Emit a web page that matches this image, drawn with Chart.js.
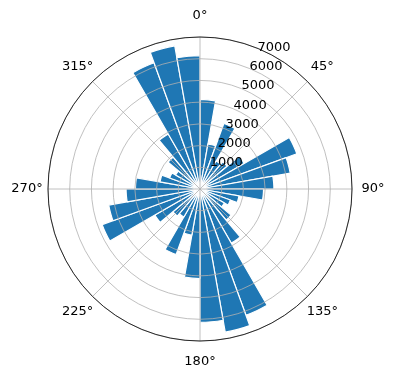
<!DOCTYPE html>
<html>
<head>
<meta charset="utf-8">
<script src="https://cdn.jsdelivr.net/npm/chart.js@4"></script>
<style>
  body { margin: 0; background: #fff; }
  #wrap { width: 396px; height: 380px; }
</style>
</head>
<body>
<div id="wrap"><canvas id="windChart"></canvas></div>
<script>
// bars every 10 deg, clockwise from north
var directions = ['0°', '10°', '20°', '30°', '40°', '50°', '60°', '70°', '80°',
    '90°', '100°', '110°', '120°', '130°', '140°', '150°', '160°', '170°',
    '180°', '190°', '200°', '210°', '220°', '230°', '240°', '250°', '260°',
    '270°', '280°', '290°', '300°', '310°', '320°', '330°', '340°', '350°'];
var counts = [4300, 2200, 3350, 1550, 1700, 2450, 4950, 4400, 3550,
    3050, 1900, 1550, 1350, 1950, 3000, 6450, 6980, 6400,
    4300, 2250, 3350, 1550, 1700, 2500, 5000, 4450, 3550,
    3100, 1950, 1550, 1350, 2000, 3050, 6450, 6980, 6400];
var radialTicks = [1000, 2000, 3000, 4000, 5000, 6000, 7000];
var rMax = 7300;
var angleTicks = [0, 45, 90, 135, 180, 225, 270, 315];
var angleLabels = ['0°', '45°', '90°', '135°', '180°', '225°', '270°', '315°'];

var polarDecor = {
    id: 'polarDecor',
    afterDraw: function (chart) {
        var ctx = chart.ctx;
        var r = chart.scales.r;
        var cx = r.xCenter, cy = r.yCenter, R = r.drawingArea;
        ctx.save();
        ctx.strokeStyle = '#b0b0b0';
        ctx.lineWidth = 0.8;
        angleTicks.forEach(function (deg) {
            var a = (deg - 90) * Math.PI / 180;
            ctx.beginPath();
            ctx.moveTo(cx, cy);
            ctx.lineTo(cx + R * Math.cos(a), cy + R * Math.sin(a));
            ctx.stroke();
        });
        ctx.strokeStyle = '#000';
        ctx.beginPath();
        ctx.arc(cx, cy, R, 0, 2 * Math.PI);
        ctx.stroke();

        ctx.font = '13px "DejaVu Sans"';
        ctx.fillStyle = '#000';
        ctx.textAlign = 'center';
        ctx.textBaseline = 'middle';
        angleTicks.forEach(function (deg, i) {
            var a = (deg - 90) * Math.PI / 180;
            ctx.fillText(angleLabels[i], cx + (R + 21) * Math.cos(a), cy + (R + 21) * Math.sin(a));
        });

        // r labels sit along 22.5 deg
        var la = (22.5 - 90) * Math.PI / 180;
        ctx.textAlign = 'left';
        radialTicks.forEach(function (v) {
            var d = r.getDistanceFromCenterForValue(v);
            ctx.fillText(String(v), cx + d * Math.cos(la) + 1.7, cy + d * Math.sin(la) - 6.8);
        });
        ctx.restore();
    }
};

var data = {
    labels: directions,
    datasets: [{
        data: counts,
        backgroundColor: '#1f77b4',
        borderColor: '#ffffff',
        borderWidth: 1.2
    }]
};

var canvas = document.getElementById('windChart');
var myChart = new Chart(canvas.getContext('2d'), {
    type: 'polarArea',
    data: data,
    options: {
        responsive: true,
        maintainAspectRatio: false,
        animation: false,
        layout: { padding: { left: 48, right: 43, top: 37, bottom: 38 } },
        plugins: {
            legend: { display: false },
            tooltip: { enabled: false }
        },
        scales: {
            r: {
                min: 0,
                max: rMax,
                bounds: 'data',
                startAngle: 0,
                ticks: { display: false, stepSize: 1000, includeBounds: false },
                grid: { circular: true, color: '#b0b0b0', lineWidth: 0.8, z: 1 },
                angleLines: { display: false },
                pointLabels: { display: false }
            }
        }
    },
    plugins: [polarDecor]
});
</script>
</body>
</html>
